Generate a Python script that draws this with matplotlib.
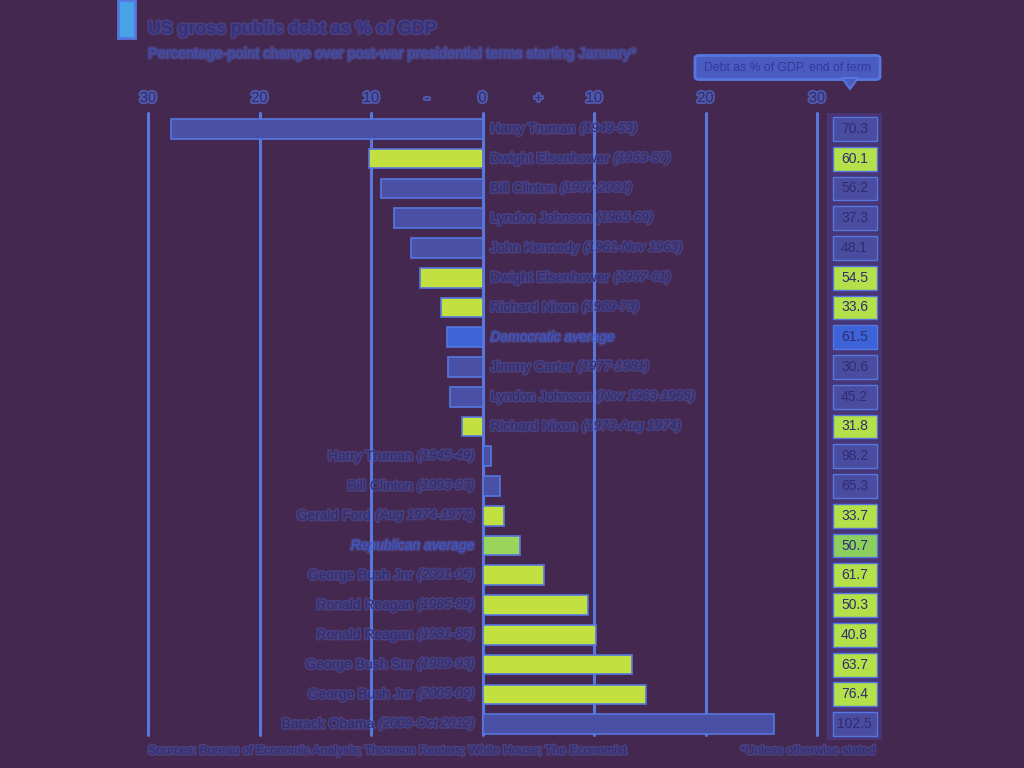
import matplotlib
matplotlib.use("Agg")
import matplotlib.pyplot as plt
from matplotlib.patches import Rectangle, Polygon, FancyBboxPatch
import matplotlib.patheffects as pe

plt.rcParams['font.family'] = ['Liberation Sans Narrow', 'Liberation Sans', 'DejaVu Sans']

# ---------------- data ----------------
names = ["Harry Truman", "Dwight Eisenhower", "Bill Clinton", "Lyndon Johnson",
         "John Kennedy", "Dwight Eisenhower", "Richard Nixon", "Democratic average",
         "Jimmy Carter", "Lyndon Johnson", "Richard Nixon", "Harry Truman",
         "Bill Clinton", "Gerald Ford", "Republican average", "George Bush Jnr",
         "Ronald Reagan", "Ronald Reagan", "George Bush Snr", "George Bush Jnr",
         "Barack Obama"]
terms = ["(1949-53)", "(1953-57)", "(1997-2001)", "(1965-69)", "(1961-Nov 1963)",
         "(1957-61)", "(1969-73)", "", "(1977-1981)", "(Nov 1963-1965)",
         "(1973-Aug 1974)", "(1945-49)", "(1993-97)", "(Aug 1974-1977)", "",
         "(2001-05)", "(1985-89)", "(1981-85)", "(1989-93)", "(2005-09)",
         "(2009-Oct 2012)"]
party = ["D", "R", "D", "D", "D", "R", "R", "DA", "D", "D", "R", "D",
         "D", "R", "RA", "R", "R", "R", "R", "R", "D"]
change = [-27.9, -10.2, -9.1, -7.9, -6.4, -5.6, -3.7, -3.2, -3.1, -2.9, -1.8,
          0.8, 1.6, 1.9, 3.4, 5.5, 9.5, 10.2, 13.4, 14.7, 26.1]
end_debt = [70.3, 60.1, 56.2, 37.3, 48.1, 54.5, 33.6, 61.5, 30.6, 45.2, 31.8,
            98.2, 65.3, 33.7, 50.7, 61.7, 50.3, 40.8, 63.7, 76.4, 102.5]
tick_vals = [-30, -20, -10, 0, 10, 20, 30]
tick_labels = ["30", "20", "10", "0", "10", "20", "30"]

title = "US gross public debt as % of GDP"
subtitle = "Percentage-point change over post-war presidential terms starting January*"
legend_text = "Debt as % of GDP, end of term"
source = "Sources: Bureau of Economic Analysis; Thomson Reuters; White House; The Economist"
footnote = "*Unless otherwise stated"

# ---------------- style ----------------
BG = '#452850'
TXT = '#2f2c72'
GRID = '#5a78dc'
GLOW = '#5677e0'
bar_col = {"D": '#4a50a6', "R": '#c2e040', "DA": '#3f64d6', "RA": '#9ad45a'}
box_col = {"D": '#4a4ca0', "R": '#b4e04a', "DA": '#3d63d8', "RA": '#8ccf5e'}
glow = [pe.withStroke(linewidth=2.5, foreground=GLOW, alpha=0.3)]
tick_glow = [pe.withStroke(linewidth=3, foreground=GLOW, alpha=0.6)]

W, H = 1024, 768
fig = plt.figure(figsize=(W / 100, H / 100), dpi=100, facecolor=BG)

# axes: x -30 -> 148px, 30 -> 817px ; rows 0..20 at 129..724 px
x0, x1 = 148, 817
ytop, ybot = 114, 739
ax = fig.add_axes([x0 / W, 1 - ybot / H, (x1 - x0) / W, (ybot - ytop) / H])
ax.set_xlim(-30, 30)
ax.set_ylim(len(names) - 0.5, -0.5)
ax.set_facecolor('none')
ax.axis('off')

# vertical gridlines
for v in tick_vals:
    ax.plot([v, v], [-0.55, len(names) - 0.65], color=GRID, lw=2.2, zorder=1,
            solid_capstyle='round', clip_on=False)

# bars
for i, (c, p) in enumerate(zip(change, party)):
    ax.barh(i, c, height=0.66, left=0, color=bar_col[p], zorder=3,
            edgecolor=GLOW, linewidth=1.2)

# tick labels
for v, lab in zip(tick_vals, tick_labels):
    ax.annotate(lab, xy=(v, 1), xycoords=('data', 'axes fraction'),
                xytext=(0, 11.5), textcoords='offset points', ha='center',
                va='center', fontsize=10.5, color=TXT, path_effects=tick_glow,
                annotation_clip=False)
for v, lab in [(-5, "-"), (5, "+")]:
    ax.annotate(lab, xy=(v, 1), xycoords=('data', 'axes fraction'),
                xytext=(0, 11.5), textcoords='offset points', ha='center',
                va='center', fontsize=10.5, color=TXT, path_effects=tick_glow,
                annotation_clip=False)

# row labels
fig.canvas.draw()
renderer = fig.canvas.get_renderer()
for i, (n, t, c, p) in enumerate(zip(names, terms, change, party)):
    avg = p in ("DA", "RA")
    style = 'italic' if avg else 'normal'
    col = '#3d5ad0' if avg else TXT
    if c < 0:
        t1 = ax.text(0.7, i, n, ha='left', va='center', fontsize=10, color=col,
                     style=style, path_effects=glow, zorder=5)
        if t:
            bb = t1.get_window_extent(renderer)
            xd = ax.transData.inverted().transform((bb.x1 + 4, 0))[0]
            ax.text(xd, i, t, ha='left', va='center', fontsize=9.5, color=TXT,
                    style='italic', path_effects=glow, zorder=5)
    else:
        if t:
            t2 = ax.text(-0.7, i, t, ha='right', va='center', fontsize=9.5,
                         color=TXT, style='italic', path_effects=glow, zorder=5)
            bb = t2.get_window_extent(renderer)
            xd = ax.transData.inverted().transform((bb.x0 - 4, 0))[0]
        else:
            xd = -0.7
        ax.text(xd, i, n, ha='right', va='center', fontsize=10, color=col,
                style=style, path_effects=glow, zorder=5)

# right column boxes (end-of-term debt)
bx0 = (831 - 481) / 11.15
bw = (875 - 831) / 11.15
ax.add_patch(Rectangle((bx0 - 0.5, -0.55), bw + 1.0, len(names) + 0.1,
                       facecolor='#4a3f8e', edgecolor='none', alpha=0.6,
                       zorder=1, clip_on=False))
for i, (d, p) in enumerate(zip(end_debt, party)):
    ax.add_patch(Rectangle((bx0, i - 0.4), bw, 0.8, facecolor=box_col[p],
                           edgecolor=GLOW, lw=1.0, zorder=3, clip_on=False))
    ax.text(bx0 + bw / 2, i, f"{d:.1f}", ha='center', va='center', fontsize=10,
            color=TXT, zorder=5, clip_on=False)

# legend callout
lx0, lx1, ly0, ly1 = 697, 878, 57, 78
fig.patches.append(FancyBboxPatch((lx0 / W, 1 - ly1 / H), (lx1 - lx0) / W,
                                  (ly1 - ly0) / H,
                                  boxstyle="round,pad=0.002,rounding_size=0.004",
                                  transform=fig.transFigure, facecolor='#4b5cc0',
                                  edgecolor=GLOW, lw=2, zorder=2))
fig.patches.append(Polygon([(842 / W, 1 - 78 / H), (858 / W, 1 - 78 / H),
                            (850 / W, 1 - 89 / H)], closed=True,
                           transform=fig.transFigure, facecolor='#4b5cc0',
                           edgecolor=GLOW, lw=1.5, zorder=2))
fig.text((lx0 + lx1) / 2 / W, 1 - 67.5 / H, legend_text, ha='center', va='center',
         fontsize=8.8, color='#34389a')

# red tag (rendered as cyan glow in reference)
fig.patches.append(Rectangle((118 / W, 1 - 38 / H), 17 / W, 38 / H,
                             transform=fig.transFigure, facecolor='#48a2e6',
                             edgecolor=GLOW, lw=2, zorder=2))

# title / subtitle
fig.text(148 / W, 1 - 29 / H, title, ha='left', va='center', fontsize=12.8,
         fontweight='bold', color='#36317f', path_effects=glow)
fig.text(148 / W, 1 - 54 / H, subtitle, ha='left', va='center', fontsize=10.5,
         color='#4050b0', path_effects=glow)

# footer
fig.text(148 / W, 1 - 751 / H, source, ha='left', va='center', fontsize=8.8,
         color=TXT, path_effects=glow)
fig.text(876 / W, 1 - 751 / H, footnote, ha='right', va='center', fontsize=8.8,
         color=TXT, path_effects=glow)

fig.savefig("out.png", dpi=100, facecolor=BG)
